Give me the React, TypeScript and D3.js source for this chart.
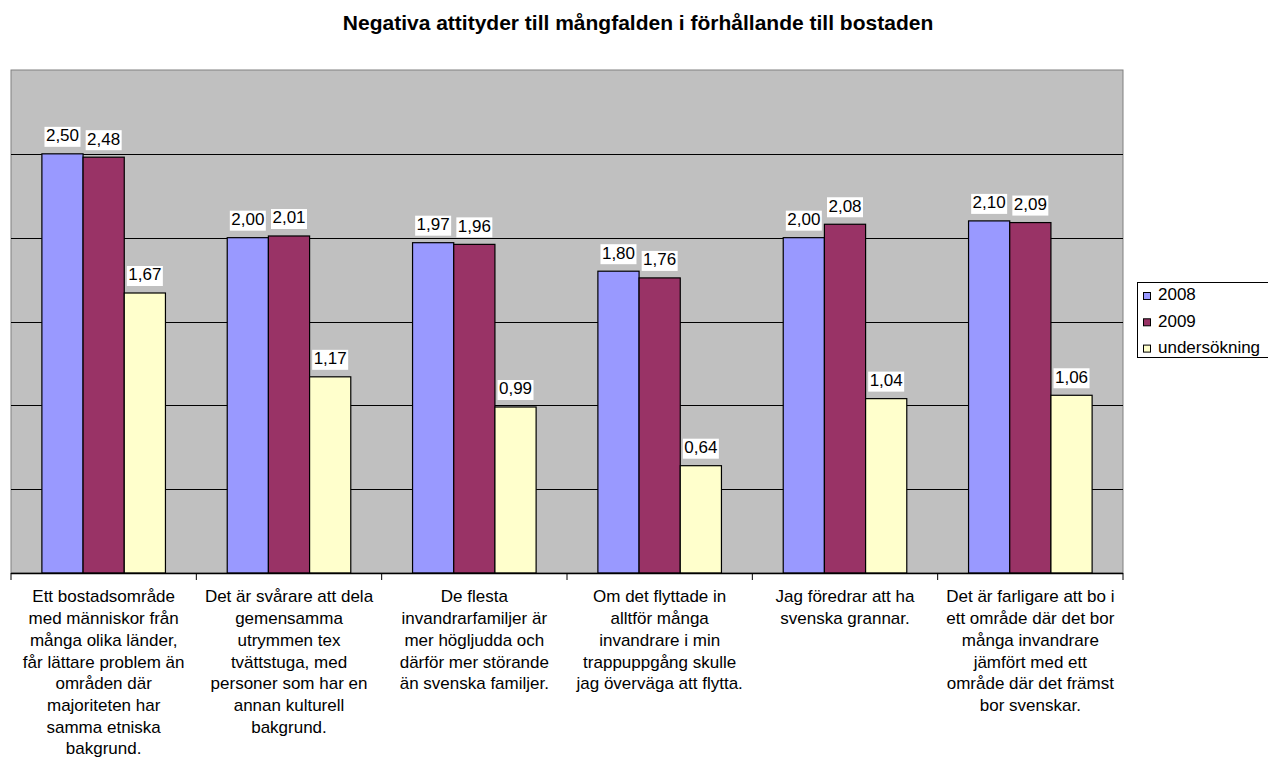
import React from "react";
import * as d3 from "d3";

const title = "Negativa attityder till mångfalden i förhållande till bostaden";
const categories: string[][] = [
  ["Ett bostadsområde", "med människor från", "många olika länder,", "får lättare problem än", "områden där", "majoriteten har", "samma etniska", "bakgrund."],
  ["Det är svårare att dela", "gemensamma", "utrymmen tex", "tvättstuga, med", "personer som har en", "annan kulturell", "bakgrund."],
  ["De flesta", "invandrarfamiljer är", "mer högljudda och", "därför mer störande", "än svenska familjer."],
  ["Om det flyttade in", "alltför många", "invandrare i min", "trappuppgång skulle", "jag överväga att flytta."],
  ["Jag föredrar att ha", "svenska grannar."],
  ["Det är farligare att bo i", "ett område där det bor", "många invandrare", "jämfört med ett", "område där det främst", "bor svenskar."],
];
const seriesNames = ["2008", "2009", "undersökning"];
const values2008 = [2.5, 2.0, 1.97, 1.8, 2.0, 2.1];
const values2009 = [2.48, 2.01, 1.96, 1.76, 2.08, 2.09];
const valuesSurvey = [1.67, 1.17, 0.99, 0.64, 1.04, 1.06];
const seriesColors = ["#9999FF", "#993366", "#FFFFCC"];
const yTicks = [0, 0.5, 1, 1.5, 2, 2.5, 3];

const seriesValues = [values2008, values2009, valuesSurvey];

const FONT = "Arial, 'Liberation Sans', sans-serif";

export default function App() {
  const W = 1268, H = 760;
  const left = 11, right = 1123, top = 70, bottom = 573;
  const x = d3.scaleBand<number>().domain(d3.range(categories.length)).range([left, right]).paddingInner(0).paddingOuter(0);
  const xs = d3.scaleBand<number>().domain(d3.range(seriesNames.length)).range([0, x.bandwidth()]).paddingInner(0).paddingOuter(0.75);
  const y = d3.scaleLinear().domain([0, 3]).range([bottom, top]);
  const fmt = (v: number) => v.toFixed(2).replace(".", ",");

  return (
    <svg width={W} height={H} style={{ position: "absolute", left: 0, top: 0, background: "#fff" }} fontFamily={FONT}>
      <rect x={0} y={0} width={W} height={H} fill="#fff" />
      <text x={638} y={29.5} textAnchor="middle" fontSize={21} fontWeight="bold">{title}</text>
      <rect x={left} y={top} width={right - left} height={bottom - top} fill="#C0C0C0" stroke="#808080" strokeWidth={1} />
      {yTicks.slice(1, -1).map((t) => (
        <line key={t} x1={left} x2={right} y1={Math.round(y(t)) + 0.5} y2={Math.round(y(t)) + 0.5} stroke="#000" strokeWidth={1} />
      ))}
      {seriesValues.map((vals, s) =>
        vals.map((v, i) => {
          const bx = (x(i) as number) + (xs(s) as number);
          return (
            <rect key={`b${s}-${i}`} x={bx} y={y(v)} width={xs.bandwidth()} height={bottom - y(v)} fill={seriesColors[s]} stroke="#000" strokeWidth={1.2} />
          );
        })
      )}
      <line x1={left} x2={right} y1={bottom + 0.5} y2={bottom + 0.5} stroke="#000" strokeWidth={1.5} />
      {d3.range(categories.length + 1).map((i) => {
        const tx = left + i * x.step();
        return <line key={`t${i}`} x1={tx} x2={tx} y1={bottom} y2={bottom + 7} stroke="#000" strokeWidth={1} />;
      })}
      {seriesValues.map((vals, s) =>
        vals.map((v, i) => {
          const cx = (x(i) as number) + (xs(s) as number) + xs.bandwidth() / 2;
          const cy = y(v) - 17;
          return (
            <g key={`l${s}-${i}`}>
              <rect x={cx - 18} y={cy - 10} width={36} height={20} fill="#fff" />
              <text x={cx} y={cy} textAnchor="middle" dominantBaseline="middle" fontSize={17}>{fmt(v)}</text>
            </g>
          );
        })
      )}
      {categories.map((lines, i) => {
        const cx = (x(i) as number) + x.bandwidth() / 2;
        return (
          <text key={`c${i}`} textAnchor="middle" fontSize={17}>
            {lines.map((ln, j) => (
              <tspan key={j} x={cx} y={598 + j * 21.7} dominantBaseline="middle">{ln}</tspan>
            ))}
          </text>
        );
      })}
      <rect x={1137.5} y={282.5} width={140} height={75} fill="#fff" stroke="#000" strokeWidth={1} />
      {seriesNames.map((n, s) => {
        const cy = 296 + s * 26.3;
        return (
          <g key={`lg${s}`}>
            <rect x={1143.5} y={cy - 3.5} width={7} height={7} fill={seriesColors[s]} stroke="#000" strokeWidth={1} />
            <text x={1158} y={cy} dominantBaseline="middle" fontSize={17}>{n}</text>
          </g>
        );
      })}
    </svg>
  );
}
